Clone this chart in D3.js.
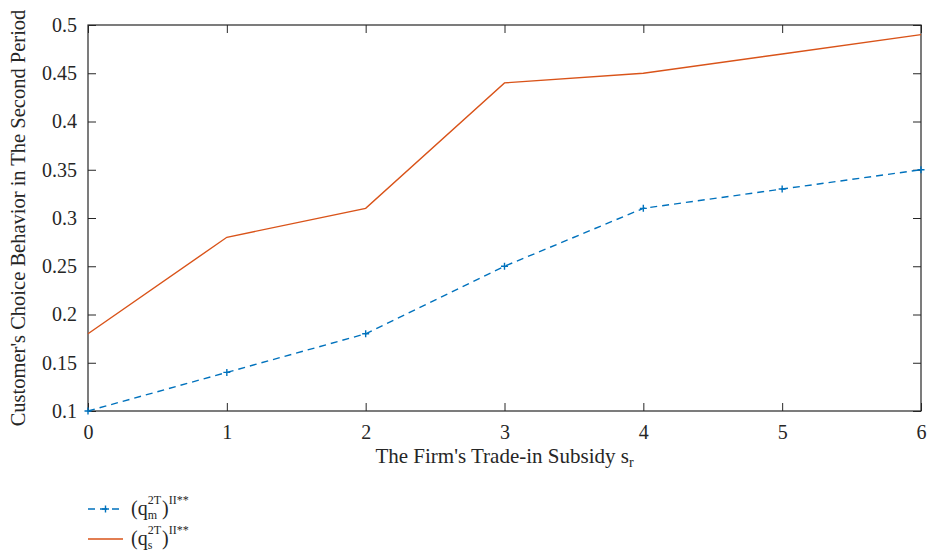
<!DOCTYPE html>
<html>
<head>
<meta charset="utf-8">
<script src="https://cdn.jsdelivr.net/npm/d3@7"></script>
<style>
  body { margin: 0; background: #fff; }
  svg, svg text { font-family: "Liberation Serif", "Times New Roman", "DejaVu Serif", serif !important; }
</style>
</head>
<body>
<script>
const subsidy = [0, 1, 2, 3, 4, 5, 6];
const qm = [0.10, 0.14, 0.18, 0.25, 0.31, 0.33, 0.35];
const qs = [0.18, 0.28, 0.31, 0.44, 0.45, 0.47, 0.49];
const yTicks = [0.1, 0.15, 0.2, 0.25, 0.3, 0.35, 0.4, 0.45, 0.5];

const width = 928, height = 556;
const margin = {top: 25, right: 7, bottom: 145, left: 88};

const svg = d3.select("body").append("svg")
    .attr("width", width)
    .attr("height", height);

const x = d3.scaleLinear().domain([0, 6]).range([margin.left, width - margin.right]);
const y = d3.scaleLinear().domain([0.1, 0.5]).range([height - margin.bottom, margin.top]);

const x0 = margin.left, x1 = width - margin.right;
const y0 = height - margin.bottom, y1 = margin.top;

// axes with inward ticks
const tickLen = 8;
svg.append("g")
    .attr("transform", `translate(0,${y0})`)
    .call(d3.axisBottom(x).tickValues(subsidy).tickSize(-tickLen).tickPadding(tickLen + 6).tickFormat(d3.format("d")))
    .call(g => g.select(".domain").remove());
svg.append("g")
    .attr("transform", `translate(0,${y1})`)
    .call(d3.axisTop(x).tickValues(subsidy).tickSize(-tickLen).tickFormat(""))
    .call(g => g.select(".domain").remove());
svg.append("g")
    .attr("transform", `translate(${x0},0)`)
    .call(d3.axisLeft(y).tickValues(yTicks).tickSize(-tickLen).tickPadding(tickLen + 3).tickFormat(d => String(+d.toFixed(2))))
    .call(g => g.select(".domain").remove());
svg.append("g")
    .attr("transform", `translate(${x1},0)`)
    .call(d3.axisRight(y).tickValues(yTicks).tickSize(-tickLen).tickFormat(""))
    .call(g => g.select(".domain").remove());

svg.selectAll("g").attr("font-family", null);
svg.selectAll(".tick line").attr("stroke", "#262626");
svg.selectAll(".tick text").attr("font-size", 20).attr("fill", "#262626");

svg.append("rect")
    .attr("x", x0).attr("y", y1)
    .attr("width", x1 - x0).attr("height", y0 - y1)
    .attr("fill", "none").attr("stroke", "#262626").attr("stroke-width", 1.2);

const line = d3.line().x((d, i) => x(subsidy[i])).y(d => y(d));

svg.append("path")
    .datum(qs)
    .attr("d", line)
    .attr("fill", "none")
    .attr("stroke", "#D95319")
    .attr("stroke-width", 1.4);

svg.append("path")
    .datum(qm)
    .attr("d", line)
    .attr("fill", "none")
    .attr("stroke", "#0072BD")
    .attr("stroke-width", 1.4)
    .attr("stroke-dasharray", "7,5");

svg.append("g").selectAll("path")
    .data(qm)
    .join("path")
    .attr("transform", (d, i) => `translate(${x(subsidy[i])},${y(d)})`)
    .attr("d", "M-3.5,0H3.5M0,-3.5V3.5")
    .attr("stroke", "#0072BD")
    .attr("stroke-width", 1.4);

// axis labels
svg.append("text")
    .attr("x", (x0 + x1) / 2)
    .attr("y", 463)
    .attr("text-anchor", "middle")
    .attr("font-size", 21)
    .attr("fill", "#262626")
    .html('The Firm\'s Trade-in Subsidy s<tspan font-size="14" dy="4">r</tspan>');

svg.append("text")
    .attr("transform", `translate(25,${(y0 + y1) / 2}) rotate(-90)`)
    .attr("text-anchor", "middle")
    .attr("font-size", 20.5)
    .attr("fill", "#262626")
    .text("Customer's Choice Behavior in The Second Period");

// legend
const legend = svg.append("g").attr("fill", "#262626");
const items = [
  {name: "m", color: "#0072BD", dash: "7,5", marker: true, yy: 509},
  {name: "s", color: "#D95319", dash: null, marker: false, yy: 539}
];
function put(xx, yy, size, str) {
  const t = legend.append("text").attr("x", xx).attr("y", yy).attr("font-size", size).text(str);
  return t.node().getComputedTextLength();
}
items.forEach(it => {
  legend.append("line")
      .attr("x1", 88).attr("x2", 123)
      .attr("y1", it.yy).attr("y2", it.yy)
      .attr("stroke", it.color).attr("stroke-width", 1.4)
      .attr("stroke-dasharray", it.dash);
  if (it.marker) {
    legend.append("path")
        .attr("transform", `translate(105.5,${it.yy})`)
        .attr("d", "M-3.5,0H3.5M0,-3.5V3.5")
        .attr("stroke", it.color).attr("stroke-width", 1.4);
  }
  const base = it.yy + 6;
  let cx = 131;
  cx += put(cx, base, 20, "(q");
  const wSup = put(cx, base - 11, 12, "2T");
  const wSub = put(cx, base + 4, 12, it.name);
  cx += Math.max(wSup, wSub) + 1;
  cx += put(cx, base, 20, ")");
  put(cx, base - 11, 12, "II**");
});
</script>
</body>
</html>
